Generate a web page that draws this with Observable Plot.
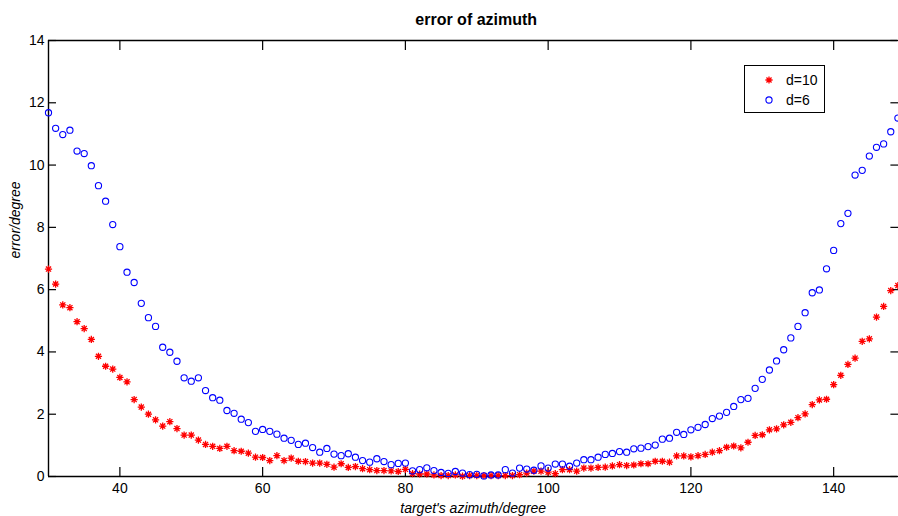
<!DOCTYPE html>
<html>
<head>
<meta charset="utf-8">
<script src="https://cdn.jsdelivr.net/npm/d3@7"></script>
<script src="https://cdn.jsdelivr.net/npm/@observablehq/plot@0.6"></script>
<style>
  html, body { margin: 0; padding: 0; background: #fff; }
  #wrap { position: relative; width: 898px; height: 516px; overflow: hidden; font-family: "Liberation Sans", Arial, sans-serif; }
  #legend { position: absolute; left: 744px; top: 65px; width: 79px; height: 46px; border: 1px solid #000; background: #fff; font-size: 14px; }
  .row { position: absolute; left: 0; height: 20px; width: 79px; }
  .row svg { position: absolute; left: 17px; top: 3px; }
  .row span { position: absolute; left: 41px; top: 2px; line-height: 16px; }
</style>
</head>
<body>
<div id="wrap"></div>
<script>
// ---- data ----
const azimuth = [30,31,32,33,34,35,36,37,38,39,40,41,42,43,44,45,46,47,48,49,
  50,51,52,53,54,55,56,57,58,59,60,61,62,63,64,65,66,67,68,69,
  70,71,72,73,74,75,76,77,78,79,80,81,82,83,84,85,86,87,88,89,
  90,91,92,93,94,95,96,97,98,99,100,101,102,103,104,105,106,107,108,109,
  110,111,112,113,114,115,116,117,118,119,120,121,122,123,124,125,126,127,128,129,
  130,131,132,133,134,135,136,137,138,139,140,141,142,143,144,145,146,147,148,149];

const errD10 = [6.66,6.18,5.51,5.42,4.97,4.75,4.40,3.86,3.54,3.45,
  3.18,3.04,2.47,2.23,2.00,1.82,1.62,1.76,1.54,1.33,
  1.33,1.17,1.03,0.97,0.90,0.97,0.83,0.81,0.75,0.62,
  0.61,0.51,0.67,0.51,0.59,0.49,0.48,0.43,0.43,0.39,
  0.30,0.41,0.29,0.32,0.25,0.22,0.19,0.19,0.18,0.16,
  0.23,0.09,0.08,0.08,0.05,0.03,0.03,0.05,0.01,0.03,
  0.03,0.03,0.03,0.03,0.03,0.03,0.06,0.11,0.17,0.17,
  0.14,0.09,0.22,0.22,0.17,0.27,0.27,0.29,0.30,0.34,
  0.38,0.35,0.37,0.41,0.41,0.49,0.49,0.46,0.66,0.66,
  0.63,0.67,0.71,0.78,0.83,0.94,0.98,0.92,1.10,1.32,
  1.34,1.50,1.53,1.66,1.74,1.89,2.01,2.31,2.46,2.48,
  2.95,3.25,3.60,3.80,4.34,4.42,5.12,5.46,5.97,6.13];

const errD6 = [11.68,11.18,10.98,11.12,10.45,10.37,9.98,9.34,8.84,8.09,
  7.38,6.56,6.23,5.56,5.10,4.82,4.15,3.99,3.70,3.17,
  3.06,3.17,2.76,2.53,2.45,2.12,2.03,1.84,1.73,1.45,
  1.51,1.45,1.36,1.23,1.16,1.03,1.07,0.93,0.78,0.90,
  0.72,0.67,0.73,0.62,0.51,0.46,0.57,0.48,0.38,0.42,
  0.43,0.18,0.22,0.28,0.19,0.13,0.10,0.16,0.11,0.06,
  0.07,0.02,0.05,0.05,0.22,0.11,0.27,0.24,0.20,0.34,
  0.27,0.40,0.40,0.33,0.43,0.54,0.54,0.62,0.71,0.74,
  0.80,0.78,0.89,0.91,0.96,1.01,1.20,1.23,1.42,1.35,
  1.50,1.58,1.67,1.86,1.94,2.06,2.25,2.47,2.51,2.83,
  3.12,3.42,3.71,4.07,4.45,4.82,5.26,5.90,5.99,6.67,
  7.26,8.12,8.45,9.68,9.83,10.29,10.57,10.68,11.07,11.51];

const seriesNames = ["d=10", "d=6"];
const xDomain = [30, 149];
const yDomain = [0, 14];
const xTicks = [40, 60, 80, 100, 120, 140];
const yTicks = [0, 2, 4, 6, 8, 10, 12, 14];
const titleText = "error of azimuth";
const xLabel = "target's azimuth/degree";
const yLabel = "error/degree";

// ---- build ----
const d10 = azimuth.map((x, i) => ({x, y: errD10[i]}));
const d6 = azimuth.map((x, i) => ({x, y: errD6[i]}));

// MATLAB-like '*' marker: plus + cross
const asterisk = {
  draw(context, size) {
    const r = Math.sqrt(size / Math.PI);
    const d = r * Math.SQRT1_2;
    context.moveTo(-r, 0); context.lineTo(r, 0);
    context.moveTo(0, -r); context.lineTo(0, r);
    context.moveTo(-d, -d); context.lineTo(d, d);
    context.moveTo(-d, d); context.lineTo(d, -d);
  }
};

const font = "Liberation Sans, Arial, sans-serif";

const chart = Plot.plot({
  width: 898,
  height: 516,
  marginLeft: 48,
  marginRight: 0.6,
  marginTop: 40,
  marginBottom: 40,
  x: {domain: xDomain},
  y: {domain: yDomain},
  style: {fontFamily: font, fontSize: "14px", color: "#000", background: "#fff", overflow: "visible"},
  marks: [
    // frame lines (left, bottom, top)
    Plot.ruleX([xDomain[0]], {stroke: "#000", strokeWidth: 1.4}),
    Plot.ruleY(yDomain, {stroke: "#000", strokeWidth: 1.4}),
    // inward ticks
    Plot.axisX({anchor: "bottom", ticks: xTicks, tickSize: -9, tickFormat: () => "", label: null, strokeWidth: 1.2}),
    Plot.axisX({anchor: "top", ticks: xTicks, tickSize: -9, tickFormat: () => "", label: null, strokeWidth: 1.2}),
    Plot.axisY({anchor: "left", ticks: yTicks, tickSize: -8, tickFormat: () => "", label: null, strokeWidth: 1.2}),
    Plot.axisY({anchor: "right", ticks: yTicks, tickSize: -8, tickFormat: () => "", label: null, strokeWidth: 1.2}),
    // tick labels
    Plot.axisX({anchor: "bottom", ticks: xTicks, tickSize: 0, tickPadding: 7, label: null, fontSize: 14}),
    Plot.axisY({anchor: "left", ticks: yTicks, tickSize: 0, tickPadding: 4, label: null, fontSize: 14}),
    // data
    Plot.dot(d10, {x: "x", y: "y", symbol: asterisk, r: 3.6, stroke: "#ff0000", fill: "none", strokeWidth: 1.3}),
    Plot.dot(d6, {x: "x", y: "y", symbol: "circle", r: 3.1, stroke: "#0000ff", fill: "none", strokeWidth: 1.1}),
    // title and axis labels
    Plot.text([titleText], {frameAnchor: "top", dx: 3, dy: -16, lineAnchor: "bottom", fontWeight: "bold", fontSize: 16, fill: "#000"}),
    Plot.text([xLabel], {frameAnchor: "bottom", dy: 36, lineAnchor: "bottom", fontStyle: "italic", fontSize: 14, fill: "#000"}),
    Plot.text([yLabel], {frameAnchor: "left", dx: -33, rotate: -90, fontStyle: "italic", fontSize: 14, fill: "#000"})
  ]
});

const wrap = document.getElementById("wrap");
wrap.appendChild(chart);

// legend
const legend = document.createElement("div");
legend.id = "legend";
const legendDefs = [
  {name: seriesNames[0], color: "#ff0000", shape: "ast"},
  {name: seriesNames[1], color: "#0000ff", shape: "circ"}
];
legendDefs.forEach((def, i) => {
  const row = document.createElement("div");
  row.className = "row";
  row.style.top = (4 + i * 20) + "px";
  const svg = d3.create("svg").attr("width", 14).attr("height", 14);
  const g = svg.append("g").attr("transform", "translate(7,7)");
  if (def.shape === "ast") {
    const p = d3.path();
    asterisk.draw(p, Math.PI * 3.6 * 3.6);
    g.append("path").attr("d", p.toString()).attr("stroke", def.color).attr("stroke-width", 1.3).attr("fill", "none");
  } else {
    g.append("circle").attr("r", 3.1).attr("stroke", def.color).attr("stroke-width", 1.1).attr("fill", "none");
  }
  row.appendChild(svg.node());
  const span = document.createElement("span");
  span.textContent = def.name;
  row.appendChild(span);
  legend.appendChild(row);
});
wrap.appendChild(legend);
</script>
</body>
</html>
